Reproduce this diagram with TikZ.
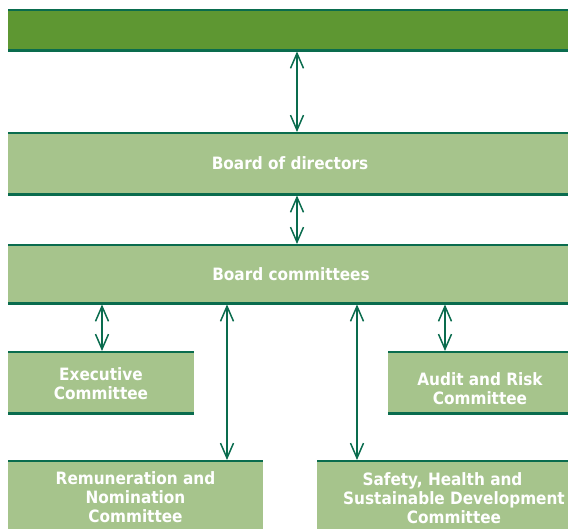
\documentclass[tikz,border=0pt]{standalone}
\usepackage{fontspec}
\setmainfont{DejaVu Sans Condensed}
\usetikzlibrary{arrows.meta}
\definecolor{bardark}{HTML}{5E9732}
\definecolor{barlight}{HTML}{A6C48C}
\definecolor{rule}{HTML}{0A6C4E}
\begin{document}
\begin{tikzpicture}[x=1pt,y=-1pt,
  panel/.style={fill=barlight, draw=none, inner sep=0pt, anchor=north west},
  edge/.style={draw=rule, line width=2.2pt},
  link/.style={draw=rule, line width=1.5pt, shorten <=1pt, shorten >=1pt,
    {Straight Barb[length=15pt,width=13pt,line width=1.5pt]}-{Straight Barb[length=15pt,width=13pt,line width=1.5pt]}},
  lbl/.style={text=white, font=\fontsize{17}{19}\selectfont\bfseries, align=center, inner sep=0pt}]
\useasboundingbox (0,0) rectangle (568,528);
\clip (0,0) rectangle (568,528);

% boxes
\node[panel, fill=bardark, minimum width=562pt, minimum height=40pt] (top) at (8,10) {};
\node[panel, minimum width=562pt, minimum height=61pt] (bod) at (8,133) {};
\node[panel, minimum width=562pt, minimum height=58pt] (bc) at (8,245) {};
\node[panel, minimum width=186pt, minimum height=61pt] (exec) at (8,352) {};
\node[panel, minimum width=182pt, minimum height=61pt] (audit) at (388,352) {};
\node[panel, minimum width=255pt, minimum height=75pt] (rem) at (8,461) {};
\node[panel, minimum width=253pt, minimum height=75pt] (safe) at (317,461) {};

% top and bottom rules of every box
\foreach \b in {top,bod,bc,exec,audit,rem,safe}{
  \draw[edge] (\b.north west) -- (\b.north east);
  \draw[edge] (\b.south west) -- (\b.south east);
}

% connector positions
\coordinate (c1) at (297,0);
\coordinate (c2) at (102,0);
\coordinate (c3) at (227,0);
\coordinate (c4) at (357,0);
\coordinate (c5) at (445,0);

% connectors
\draw[link] (top.south -| c1) -- (bod.north -| c1);
\draw[link] (bod.south -| c1) -- (bc.north -| c1);
\draw[link] (bc.south -| c2) -- (exec.north -| c2);
\draw[link] (bc.south -| c3) -- (rem.north -| c3);
\draw[link] (bc.south -| c4) -- (safe.north -| c4);
\draw[link] (bc.south -| c5) -- (audit.north -| c5);

% labels
\node[lbl] (tbod) at (290,163) {Board of directors};
\node[lbl] (tbc) at (291,274) {Board committees};
\node[lbl] (texec) at (101,384) {Executive\\Committee};
\node[lbl] (taudit) at (480,389) {Audit and Risk\\Committee};
\node[lbl] (trem) at (135.5,497) {Remuneration and\\Nomination\\Committee};
\node[lbl] (tsafe) at (454,498) {Safety, Health and\phantom{\hspace{23pt}}\\Sustainable Development\\Committee};
\end{tikzpicture}
\end{document}
